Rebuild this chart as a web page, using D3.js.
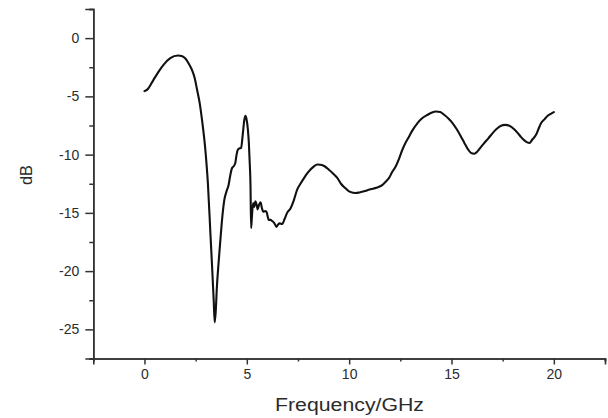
<!DOCTYPE html>
<html>
<head>
<meta charset="utf-8">
<script src="https://cdn.jsdelivr.net/npm/d3@7"></script>
<style>
  html, body { margin: 0; padding: 0; background: #fff; }
  svg { display: block; }
  text { font-family: "Liberation Sans", Arial, sans-serif; fill: #2b2b2b; }
</style>
</head>
<body>
<svg id="chart" width="608" height="418"></svg>
<script>
// ---- data ----
const freq = [0.0,0.15,0.44,0.7,0.93,1.26,1.63,1.85,2.0,2.2,2.32,2.45,2.57,2.7,2.81,2.97,3.1,3.22,3.3,3.38,3.43,3.48,3.54,3.62,3.71,3.8,3.9,4.0,4.11,4.2,4.28,4.36,4.44,4.5,4.56,4.65,4.72,4.8,4.88,4.93,4.98,5.05,5.1,5.15,5.18,5.21,5.25,5.31,5.36,5.42,5.48,5.53,5.6,5.67,5.74,5.8,5.9,5.96,6.07,6.16,6.24,6.35,6.45,6.53,6.61,6.73,6.85,6.97,7.14,7.3,7.46,7.62,7.8,7.95,8.1,8.28,8.45,8.6,8.8,9.01,9.2,9.42,9.6,9.83,10.05,10.32,10.5,10.72,11.0,11.21,11.4,11.63,11.8,11.95,12.1,12.28,12.45,12.6,12.75,12.93,13.1,13.34,13.55,13.83,14.05,14.24,14.45,14.64,14.85,15.05,15.25,15.46,15.63,15.79,15.95,16.11,16.28,16.44,16.6,16.8,17.01,17.2,17.42,17.62,17.83,18.05,18.24,18.4,18.56,18.7,18.81,18.95,19.13,19.25,19.38,19.55,19.7,19.85,20.0];
const dB = [-4.55,-4.4,-3.58,-2.85,-2.29,-1.72,-1.49,-1.55,-1.75,-2.3,-2.72,-3.4,-4.43,-5.6,-7.0,-9.5,-12.5,-16.7,-19.5,-22.4,-24.4,-23.5,-21.3,-19.3,-17.3,-15.4,-13.9,-13.2,-12.6,-11.7,-11.15,-11.0,-10.7,-10.0,-9.58,-9.45,-9.43,-8.3,-7.0,-6.66,-6.9,-7.8,-9.0,-11.0,-12.6,-16.3,-15.3,-14.15,-14.5,-14.0,-14.3,-14.7,-14.3,-14.1,-14.6,-14.9,-14.85,-14.9,-15.6,-15.6,-15.7,-15.9,-16.2,-16.0,-15.9,-15.95,-15.5,-15.0,-14.6,-13.9,-13.0,-12.5,-12.0,-11.6,-11.3,-11.0,-10.85,-10.87,-11.0,-11.3,-11.6,-12.0,-12.5,-12.9,-13.2,-13.3,-13.25,-13.15,-13.0,-12.9,-12.8,-12.6,-12.3,-12.0,-11.5,-11.0,-10.3,-9.58,-9.0,-8.44,-7.9,-7.29,-6.9,-6.58,-6.38,-6.3,-6.35,-6.58,-6.9,-7.29,-7.8,-8.44,-9.0,-9.5,-9.85,-9.92,-9.7,-9.35,-9.0,-8.6,-8.15,-7.8,-7.52,-7.45,-7.52,-7.8,-8.15,-8.5,-8.78,-8.95,-9.0,-8.7,-8.3,-7.8,-7.29,-6.95,-6.66,-6.5,-6.35];
const xTicks = [0, 5, 10, 15, 20];
const yTicks = [0, -5, -10, -15, -20, -25];
const xMinor = [-2.5, 2.5, 7.5, 12.5, 17.5, 22.5];
const yMinor = [2.5, -2.5, -7.5, -12.5, -17.5, -22.5, -27.5];
const xLabel = "Frequency/GHz";
const yLabel = "dB";

// ---- layout ----
const svg = d3.select("#chart");
const mLeft = 93.3, mRight = 605, mTop = 9, mBottom = 358.5;
const x = d3.scaleLinear().domain([-2.5, 22.5]).range([mLeft, mRight]);
const y = d3.scaleLinear().domain([2.5, -27.5]).range([mTop, mBottom]);
const axisColor = "#333";

// x axis
const gx = svg.append("g").attr("transform", `translate(0,${mBottom})`);
gx.call(d3.axisBottom(x).tickValues(xTicks).tickSize(6).tickPadding(5).tickFormat(d3.format("d")));
gx.append("g").call(d3.axisBottom(x).tickValues(xMinor).tickSize(3).tickFormat(""));
gx.selectAll("path.domain").attr("stroke", axisColor).attr("stroke-width", 1.6);
gx.selectAll("line").attr("stroke", axisColor).attr("stroke-width", 1.5);
gx.selectAll("text").style("font-size", "14px").style("font-family", "Liberation Sans, Arial, sans-serif").attr("fill", "#2b2b2b");

// y axis
const gy = svg.append("g").attr("transform", `translate(${mLeft},0)`);
gy.call(d3.axisLeft(y).tickValues(yTicks).tickSize(8).tickPadding(6).tickFormat(d => String(d)));
gy.append("g").call(d3.axisLeft(y).tickValues(yMinor).tickSize(4).tickFormat(""));
gy.selectAll("path.domain").attr("stroke", axisColor).attr("stroke-width", 1.6);
gy.selectAll("line").attr("stroke", axisColor).attr("stroke-width", 1.5);
gy.selectAll("text").style("font-size", "14px").style("font-family", "Liberation Sans, Arial, sans-serif").attr("fill", "#2b2b2b");

// axis titles
svg.append("text").attr("x", 349.5).attr("y", 411)
  .attr("text-anchor", "middle").style("font-size", "17.5px")
  .attr("textLength", 149).attr("lengthAdjust", "spacingAndGlyphs").text(xLabel);
svg.append("text").attr("transform", `translate(31.5,175) rotate(-90)`)
  .attr("text-anchor", "middle").style("font-size", "17px")
  .attr("textLength", 20).attr("lengthAdjust", "spacingAndGlyphs").text(yLabel);

// curve
const pts = freq.map((f, i) => [f, dB[i]]);
const line = d3.line().x(d => x(d[0])).y(d => y(d[1])).curve(d3.curveMonotoneX);
svg.append("path").datum(pts).attr("d", line)
  .attr("fill", "none").attr("stroke", "#111").attr("stroke-width", 2.1)
  .attr("stroke-linejoin", "round").attr("stroke-linecap", "round");
</script>
</body>
</html>
